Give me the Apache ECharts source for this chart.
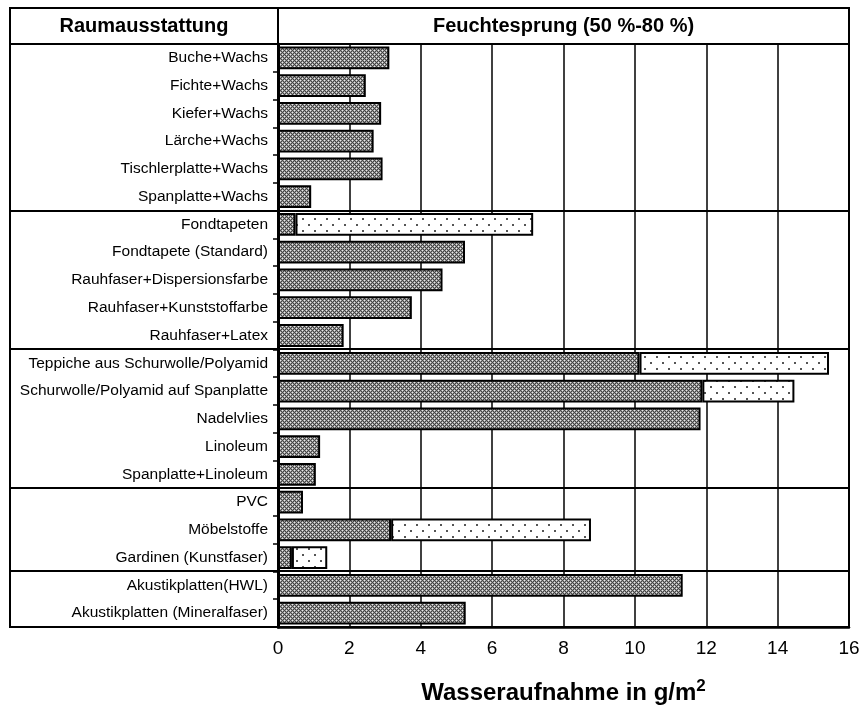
<!DOCTYPE html>
<html>
<head>
<meta charset="utf-8">
<script src="https://cdn.jsdelivr.net/npm/echarts@6/dist/echarts.min.js"></script>
<style>
  html, body { margin: 0; padding: 0; background: #fff; }
  #chart { width: 862px; height: 706px; }
</style>
</head>
<body>
<div id="chart"></div>
<script>
// Raumausstattung, Wasseraufnahme beim Feuchtesprung 50 % -> 80 %
var categories = [
  'Buche+Wachs', 'Fichte+Wachs', 'Kiefer+Wachs', 'Lärche+Wachs', 'Tischlerplatte+Wachs', 'Spanplatte+Wachs',
  'Fondtapeten', 'Fondtapete (Standard)', 'Rauhfaser+Dispersionsfarbe', 'Rauhfaser+Kunststoffarbe', 'Rauhfaser+Latex',
  'Teppiche aus Schurwolle/Polyamid', 'Schurwolle/Polyamid auf Spanplatte', 'Nadelvlies', 'Linoleum', 'Spanplatte+Linoleum',
  'PVC', 'Möbelstoffe', 'Gardinen (Kunstfaser)',
  'Akustikplatten(HWL)', 'Akustikplatten (Mineralfaser)'
];
// dunkler Balkenteil
var valuesDark = [
  3.12, 2.46, 2.89, 2.68, 2.93, 0.93,
  0.49, 5.24, 4.61, 3.75, 1.84,
  10.13, 11.89, 11.84, 1.18, 1.06,
  0.70, 3.17, 0.39,
  11.34, 5.26
];
// heller (gepunkteter) Zusatzteil
var valuesLight = [
  '-', '-', '-', '-', '-', '-',
  6.66, '-', '-', '-', '-',
  5.31, 2.58, '-', '-', '-',
  '-', 5.60, 0.99,
  '-', '-'
];
var xTicks = [0, 2, 4, 6, 8, 10, 12, 14, 16];
var groupBreaks = [6, 11, 16, 19]; // Trennlinien nach diesen Zeilen

var FONT = '"Liberation Sans", Arial, sans-serif';
var gridLeft = 278, gridTop = 44, gridW = 571, gridH = 583;
var rowH = gridH / categories.length;

function makePattern(type) {
  var c = document.createElement('canvas');
  var ctx;
  if (type === 'dark') {
    c.width = 4; c.height = 4;
    ctx = c.getContext('2d');
    for (var y = 0; y < 4; y++) {
      for (var x = 0; x < 4; x++) {
        ctx.fillStyle = ((x + y) % 2 === 0) ? '#444444' : '#9a9a9a';
        ctx.fillRect(x, y, 1, 1);
      }
    }
    ctx.fillStyle = '#e8e8e8';
    ctx.fillRect(0, 0, 1, 1);
    ctx.fillRect(2, 2, 1, 1);
  } else {
    c.width = 12; c.height = 12;
    ctx = c.getContext('2d');
    ctx.fillStyle = '#ffffff';
    ctx.fillRect(0, 0, 12, 12);
    ctx.fillStyle = '#555555';
    ctx.fillRect(2, 2, 2, 2);
    ctx.fillRect(8, 8, 2, 2);
  }
  return { image: c, repeat: 'repeat' };
}

var chart = echarts.init(document.getElementById('chart'), null, { renderer: 'canvas' });

var lines = [];
// äußerer Rahmen
lines.push({ type: 'rect', shape: { x: 10, y: 8, width: gridLeft + gridW - 10, height: gridTop + gridH - 8 },
  style: { fill: null, stroke: '#000', lineWidth: 2 }, z: 100 });
// Kopfzeile
lines.push({ type: 'line', shape: { x1: 10, y1: gridTop, x2: gridLeft + gridW, y2: gridTop },
  style: { stroke: '#000', lineWidth: 2 }, z: 100 });
lines.push({ type: 'line', shape: { x1: gridLeft, y1: 8, x2: gridLeft, y2: gridTop },
  style: { stroke: '#000', lineWidth: 2 }, z: 100 });
// Gruppentrennlinien
groupBreaks.forEach(function (k) {
  var y = Math.round(gridTop + rowH * k);
  lines.push({ type: 'line', shape: { x1: 10, y1: y, x2: gridLeft + gridW, y2: y },
    style: { stroke: '#000', lineWidth: 2 }, z: 100 });
});
lines.push({ type: 'text', x: (10 + gridLeft) / 2, y: 26,
  style: { text: 'Raumausstattung', font: 'bold 20px ' + FONT, fill: '#000', align: 'center', verticalAlign: 'middle' }, z: 100 });
lines.push({ type: 'text', x: gridLeft + gridW / 2, y: 26,
  style: { text: 'Feuchtesprung (50 %-80 %)', font: 'bold 20px ' + FONT, fill: '#000', align: 'center', verticalAlign: 'middle' }, z: 100 });

var option = {
  animation: false,
  backgroundColor: '#fff',
  textStyle: { fontFamily: FONT },
  grid: {
    left: gridLeft, top: gridTop, width: gridW, height: gridH,
    outerBoundsMode: 'none',
    containLabel: false,
    show: true, borderColor: '#000', borderWidth: 2
  },
  xAxis: {
    type: 'value', min: 0, max: 16, interval: 2,
    axisLine: { show: true, lineStyle: { color: '#000', width: 2.5 } },
    axisTick: { show: false },
    axisLabel: {
      color: '#000', fontSize: 19, margin: 12, fontFamily: FONT,
      formatter: function (v) { return xTicks.indexOf(v) >= 0 ? String(v) : ''; }
    },
    splitLine: { show: true, lineStyle: { color: '#000', width: 1.5 } },
    name: '{t|Wasseraufnahme in g/m}{sup|2}',
    nameLocation: 'middle',
    nameGap: 51,
    nameTextStyle: {
      rich: {
        t: { fontSize: 24, fontWeight: 'bold', color: '#000', fontFamily: FONT, lineHeight: 30 },
        sup: { fontSize: 17, fontWeight: 'bold', color: '#000', fontFamily: FONT, padding: [0, 0, 14, 0], verticalAlign: 'bottom' }
      }
    }
  },
  yAxis: {
    type: 'category', data: categories, inverse: true,
    axisLine: { show: true, lineStyle: { color: '#000', width: 3 } },
    axisTick: { show: true, length: 5, lineStyle: { color: '#000', width: 1.5 } },
    axisLabel: { color: '#000', fontSize: 15.5, margin: 10, fontFamily: FONT },
    splitLine: { show: false }
  },
  series: [
    {
      name: 'dunkel', type: 'bar', stack: 'w', data: valuesDark,
      barCategoryGap: '18%',
      itemStyle: { color: makePattern('dark'), borderColor: '#000', borderWidth: 2 }
    },
    {
      name: 'hell', type: 'bar', stack: 'w', data: valuesLight,
      barCategoryGap: '18%',
      itemStyle: { color: makePattern('light'), borderColor: '#000', borderWidth: 2 }
    }
  ],
  graphic: lines
};
chart.setOption(option);
</script>
</body>
</html>
